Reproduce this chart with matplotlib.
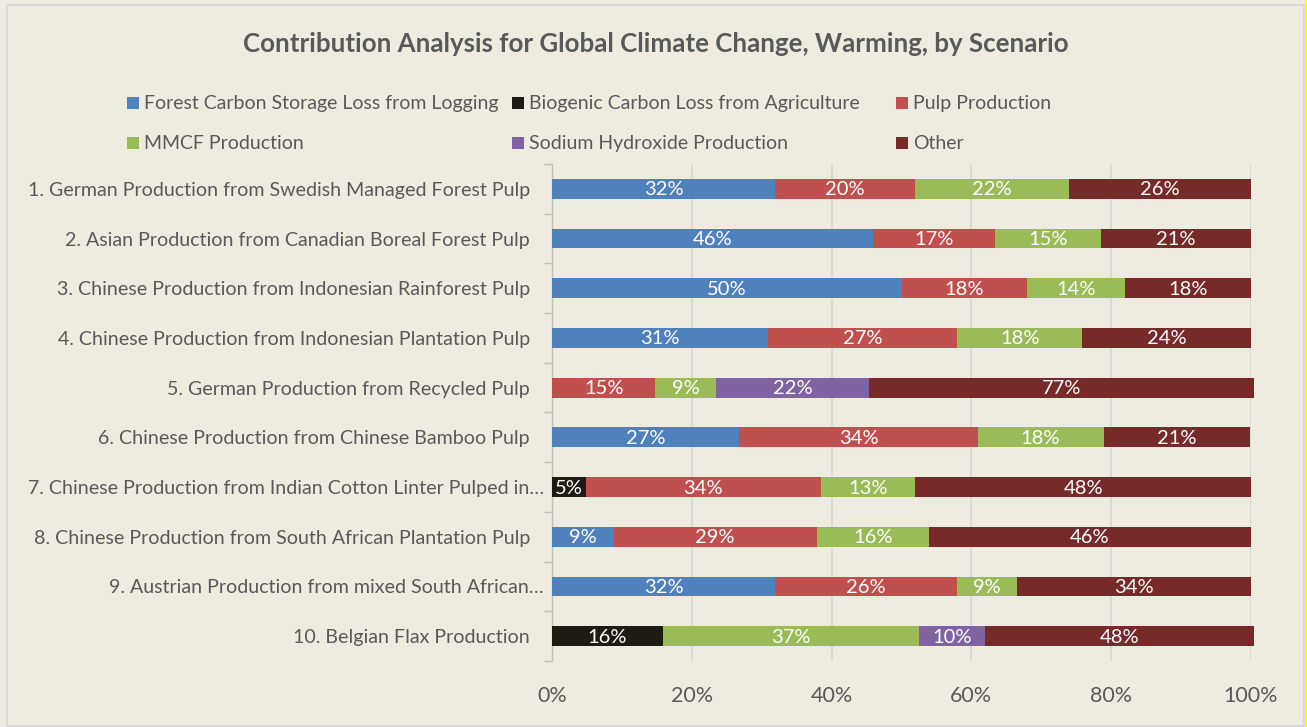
import numpy as np
import matplotlib
matplotlib.use("Agg")
import matplotlib.pyplot as plt
from matplotlib.patches import Rectangle
from matplotlib.lines import Line2D
import matplotlib.transforms as mtrans

plt.rcParams['font.family'] = ['Lato', 'DejaVu Sans']

# escenarios (orden de arriba hacia abajo)
scenarios = [
    "1. German Production from Swedish Managed Forest Pulp",
    "2. Asian Production from Canadian Boreal Forest Pulp",
    "3. Chinese Production from Indonesian Rainforest Pulp",
    "4. Chinese Production from Indonesian Plantation Pulp",
    "5. German Production from Recycled Pulp",
    "6. Chinese Production from Chinese Bamboo Pulp",
    "7. Chinese Production from Indian Cotton Linter Pulped in…",
    "8. Chinese Production from South African Plantation Pulp",
    "9. Austrian Production from mixed South African…",
    "10. Belgian Flax Production",
]

series_names = ["Forest Carbon Storage Loss from Logging",
                "Biogenic Carbon Loss from Agriculture",
                "Pulp Production",
                "MMCF Production",
                "Sodium Hydroxide Production",
                "Other"]

# valores en %
forest   = [31.9, 45.9, 50.0, 30.9, 0.0, 26.8, 0.0, 8.8, 31.9, 0.0]
biogenic = [0.0, 0.0, 0.0, 0.0, 0.0, 0.0, 4.8, 0.0, 0.0, 15.9]
pulp     = [20.0, 17.5, 18.0, 27.1, 14.8, 34.1, 33.7, 29.1, 26.0, 0.0]
mmcf     = [22.1, 15.2, 14.0, 17.8, 8.6, 18.0, 13.5, 16.0, 8.6, 36.6]
naoh     = [0.0, 0.0, 0.0, 0.0, 22.0, 0.0, 0.0, 0.0, 0.0, 9.4]
other    = [26.0, 21.4, 18.0, 24.2, 55.0, 21.0, 48.0, 46.1, 33.5, 38.5]

# etiquetas tal como aparecen
forest_lbl   = ["32%", "46%", "50%", "31%", "", "27%", "", "9%", "32%", ""]
biogenic_lbl = ["", "", "", "", "", "", "5%", "", "", "16%"]
pulp_lbl     = ["20%", "17%", "18%", "27%", "15%", "34%", "34%", "29%", "26%", ""]
mmcf_lbl     = ["22%", "15%", "14%", "18%", "9%", "18%", "13%", "16%", "9%", "37%"]
naoh_lbl     = ["", "", "", "", "22%", "", "", "", "", "10%"]
other_lbl    = ["26%", "21%", "18%", "24%", "77%", "21%", "48%", "46%", "34%", "48%"]

colors = ["#4F81BD", "#1E1B12", "#C0504D", "#9BBB59", "#8064A2", "#772A2A"]
bg = "#EEECE1"
txt = "#595959"

W, H = 1307, 727
fig = plt.figure(figsize=(W / 100, H / 100), dpi=100, facecolor=bg)
ax = fig.add_axes([552 / W, 1 - 661 / H, (1251 - 552) / W, (661 - 164) / H])
ax.set_facecolor(bg)

vals = np.array([forest, biogenic, pulp, mmcf, naoh, other]) / 100.0
lbls = [forest_lbl, biogenic_lbl, pulp_lbl, mmcf_lbl, naoh_lbl, other_lbl]
y = np.arange(len(scenarios))
left = np.zeros(len(scenarios))
for k in range(len(series_names)):
    bars = ax.barh(y, vals[k], left=left, height=0.4, color=colors[k],
                   clip_on=False, zorder=3)
    for i, b in enumerate(bars):
        if lbls[k][i]:
            ax.text(left[i] + vals[k][i] / 2, y[i] + 0.02, lbls[k][i], ha='center',
                    va='center', color='white', fontsize=14.5, zorder=4)
    left = left + vals[k]

ax.set_xlim(0, 1)
ax.set_ylim(len(scenarios) - 0.5, -0.5)
ax.set_xticks(np.arange(0, 1.01, 0.2))
ax.set_xticklabels([f"{int(round(t * 100))}%" for t in np.arange(0, 1.01, 0.2)],
                   fontsize=15.5, color=txt)
ax.tick_params(axis='x', length=0, pad=18)
ax.xaxis.grid(True, color="#D9D9D9", linewidth=1.5, zorder=0)
ax.set_axisbelow(True)

ax.set_yticks(np.arange(len(scenarios) + 1) - 0.5)
ax.set_yticklabels([])
ax.tick_params(axis='y', length=6, width=1, color="#BFBFBF")
for s in ['top', 'right', 'bottom']:
    ax.spines[s].set_visible(False)
ax.spines['left'].set_color("#BFBFBF")
ax.spines['left'].set_linewidth(1)

# etiquetas de categorias
for i, name in enumerate(scenarios):
    off = -8 if name.endswith("…") else -22
    tr = mtrans.offset_copy(ax.get_yaxis_transform(), fig=fig, x=off * 0.72, y=0, units='points')
    ax.text(0, i + 0.03, name, transform=tr, ha='right', va='center', fontsize=14.15, color=txt)

# titulo
fig.text(656 / W, 1 - 44 / H, "Contribution Analysis for Global Climate Change, Warming, by Scenario",
         ha='center', va='center', fontsize=18.6, fontweight='bold', color=txt)

# leyenda manual
col_x = [127, 512, 896]
row_y = [103, 143]
for i, name in enumerate(series_names):
    r, c = divmod(i, 3)
    x0 = col_x[c]
    yc = row_y[r]
    fig.add_artist(Rectangle((x0 / W, 1 - (yc + 6) / H), 12 / W, 12 / H,
                             transform=fig.transFigure, facecolor=colors[i], edgecolor='none'))
    fig.text((x0 + 17) / W, 1 - (yc + 0.5) / H, name, ha='left', va='center', fontsize=14.0, color=txt)

# borde
fig.add_artist(Rectangle((7 / W, 1 - 726 / H), (1304 - 7) / W, (726 - 5) / H,
                         transform=fig.transFigure, fill=False, edgecolor="#D9D9D9", linewidth=1.5))
fig.add_artist(Line2D([1306 / W, 1306 / W], [0, 1], transform=fig.transFigure,
                      color="#FFFF00", linewidth=1.5))

fig.savefig("out.png", dpi=100, facecolor=bg)
